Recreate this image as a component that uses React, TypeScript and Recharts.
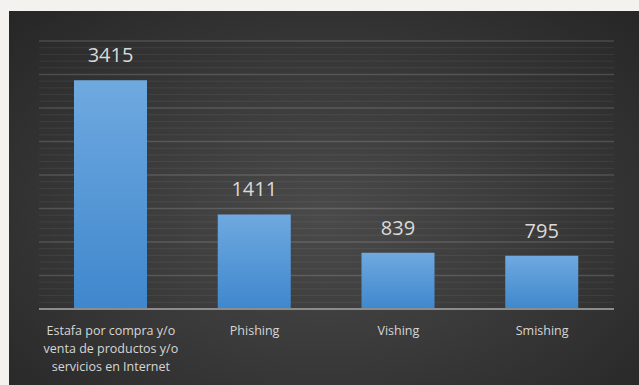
import React from 'react';
import { BarChart, Bar, XAxis, YAxis, CartesianGrid, LabelList, Text } from 'recharts';

const categories = [
  'Estafa por compra y/o venta de productos y/o servicios en Internet',
  'Phishing',
  'Vishing',
  'Smishing',
];
const casos = [3415, 1411, 839, 795];
const yTicks = Array.from({ length: 41 }, (_, i) => i * 100);

const data = categories.map((name, i) => ({ name, casos: casos[i] }));

const GridLine = (props: any) => {
  const { x1, x2, y1, y2, index } = props;
  const major = index % 5 === 0;
  return (
    <line
      x1={x1}
      x2={x2}
      y1={y1}
      y2={y2}
      stroke={major ? 'rgba(255,255,255,0.15)' : 'rgba(255,255,255,0.065)'}
      strokeWidth={major ? 1.6 : 1}
    />
  );
};

const CategoryTick = (props: any) => {
  const { x, y, payload } = props;
  return (
    <Text
      x={x}
      y={y + 9}
      width={150}
      textAnchor="middle"
      verticalAnchor="start"
      fill="#d6d6d6"
      fontSize={12.5}
      lineHeight={18}
      fontFamily="'Open Sans', sans-serif"
    >
      {payload.value}
    </Text>
  );
};

export default function App() {
  return (
    <div style={{ position: 'absolute', left: 0, top: 0, width: 639, height: 385, background: '#f3f2ee', overflow: 'hidden' }}>
      <div
        style={{
          position: 'absolute',
          left: 9,
          top: 11,
          width: 630,
          height: 374,
          background: 'radial-gradient(ellipse at 50% 55%, #4a4a4a 0%, #3b3b3b 45%, #262626 100%)',
        }}
      >
        <BarChart width={630} height={374} data={data} margin={{ top: 30, right: 25, bottom: 0, left: 30 }}>
          <defs>
            <linearGradient id="barFill" x1="0" y1="0" x2="0" y2="1">
              <stop offset="0%" stopColor="#6fa9e0" />
              <stop offset="100%" stopColor="#3f87cd" />
            </linearGradient>
          </defs>
          <CartesianGrid vertical={false} horizontal={GridLine} />
          <YAxis hide domain={[0, 4000]} ticks={yTicks} interval={0} />
          <XAxis
            dataKey="name"
            height={76}
            interval={0}
            tickLine={false}
            axisLine={{ stroke: '#8c8c8c', strokeWidth: 2 }}
            tick={<CategoryTick />}
          />
          <Bar dataKey="casos" fill="url(#barFill)" barSize={73} isAnimationActive={false}>
            <LabelList
              dataKey="casos"
              position="top"
              offset={18}
              fill="#d9d9d9"
              fontSize={20}
              fontFamily="'Open Sans', sans-serif"
            />
          </Bar>
        </BarChart>
      </div>
    </div>
  );
}
